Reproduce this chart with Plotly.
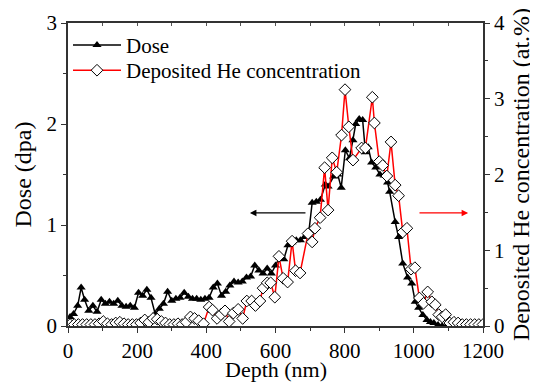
import plotly.graph_objects as go

# ---- data ----
dose_depth = [6, 16, 28, 38, 48, 60, 72, 84, 96, 108, 120, 132, 144, 156, 168, 180, 192,
              204, 216, 228, 240, 252, 264, 276, 288, 300, 312, 324, 336, 348, 360, 372,
              384, 396, 408, 420, 432, 444, 456, 468, 480, 492, 504, 516, 528, 540, 552,
              564, 576, 588, 600, 612, 624, 636, 648, 660, 672, 684, 696, 706, 718, 730,
              744, 752, 768, 780, 790, 802, 814, 824, 832, 842, 852, 860, 868, 878, 890,
              902, 914, 924, 930, 946, 956, 968, 982, 994, 1004, 1014, 1026, 1038, 1048,
              1058, 1070, 1082, 1094]
dose_val = [0.09, 0.12, 0.2, 0.38, 0.26, 0.15, 0.2, 0.14, 0.26, 0.22, 0.24, 0.22, 0.25,
            0.2, 0.19, 0.2, 0.18, 0.33, 0.3, 0.36, 0.28, 0.12, 0.17, 0.22, 0.34, 0.25,
            0.27, 0.28, 0.33, 0.29, 0.27, 0.27, 0.26, 0.27, 0.28, 0.38, 0.42, 0.3, 0.34,
            0.4, 0.44, 0.43, 0.44, 0.48, 0.49, 0.6, 0.55, 0.52, 0.57, 0.52, 0.6, 0.68,
            0.66, 0.8, 0.83, 0.85, 0.85, 0.88, 0.92, 1.22, 1.23, 1.25, 1.4, 1.38, 1.48,
            1.5, 1.37, 1.74, 1.66, 1.84, 2.0, 2.05, 2.04, 1.72, 1.77, 1.62, 1.57, 1.5,
            1.49, 1.42, 1.33, 1.03, 0.88, 0.62, 0.48, 0.42, 0.24, 0.18, 0.11, 0.06, 0.04,
            0.03, 0.01, 0.0, 0.0]

he_depth = [6, 18, 30, 42, 54, 66, 78, 90, 102, 114, 126, 138, 150, 162, 174, 186, 198,
            210, 222, 234, 246, 258, 270, 282, 294, 306, 318, 330, 342, 354, 366, 378,
            392, 408, 418, 431, 442, 454, 466, 478, 492, 505, 517, 531, 542, 555, 564,
            576, 586, 598, 610, 622, 635, 648, 658, 671, 694, 706, 714, 729, 742, 752,
            764, 777, 791, 801, 812, 824, 849, 860, 880, 886, 900, 910, 922, 934, 946,
            956, 968, 980, 992, 1003, 1016, 1028, 1040, 1052, 1062, 1072, 1082, 1092,
            1104, 1116, 1128, 1140, 1152, 1164, 1176, 1188, 1200]
he_val = [0.02, 0.02, 0.02, 0.02, 0.02, 0.02, 0.02, 0.03, 0.06, 0.03, 0.02, 0.04, 0.05,
          0.03, 0.02, 0.02, 0.02, 0.04, 0.08, 0.05, 0.1, 0.09, 0.06, 0.04, 0.02, 0.02,
          0.03, 0.02, 0.05, 0.12, 0.1, 0.07, 0.03, 0.25, 0.21, 0.1, 0.15, 0.2, 0.06,
          0.17, 0.22, 0.1, 0.33, 0.33, 0.27, 0.33, 0.5, 0.57, 0.57, 0.38, 0.92, 0.63,
          0.58, 1.12, 0.73, 0.7, 1.22, 1.11, 1.29, 1.43, 2.09, 1.53, 2.22, 2.03, 2.52,
          3.12, 2.63, 2.19, 2.35, 2.35, 3.02, 2.68, 2.17, 2.12, 1.98, 2.43, 1.86, 1.72,
          1.24, 1.29, 0.75, 0.77, 0.37, 0.3, 0.45, 0.32, 0.28, 0.15, 0.12, 0.15, 0.04,
          0.05, 0.04, 0.02, 0.02, 0.02, 0.02, 0.02, 0.02]

x_ticks = [0, 200, 400, 600, 800, 1000, 1200]
y_left_ticks = [0, 1, 2, 3]
y_right_ticks = [0, 1, 2, 3, 4]

FONT = "Liberation Serif"

fig = go.Figure()
fig.add_trace(go.Scatter(
    x=dose_depth, y=dose_val, name="Dose", mode="lines+markers",
    line=dict(color="black", width=1.5),
    marker=dict(symbol="triangle-up", size=8, color="black"),
    yaxis="y", legend="legend"))
fig.add_trace(go.Scatter(
    x=he_depth, y=he_val, name="Deposited He concentration", mode="lines+markers",
    line=dict(color="#ff0000", width=1.5),
    marker=dict(symbol="diamond", size=9, color="white",
                line=dict(color="black", width=1)),
    yaxis="y2", legend="legend2"))
# invisible trace for the top axis
fig.add_trace(go.Scatter(x=[0, 1200], y=[0, 0], xaxis="x2", yaxis="y",
                         mode="markers", marker=dict(opacity=0),
                         showlegend=False, hoverinfo="skip"))

axis_common = dict(showgrid=False, zeroline=False, showline=True, automargin=False,
                   linecolor="#333333", linewidth=1.5, ticks="outside",
                   ticklen=5, tickwidth=1.2, tickcolor="#333333",
                   tickfont=dict(family=FONT, size=21, color="black"))

leg_common = dict(xanchor="left", yanchor="middle", bgcolor="rgba(0,0,0,0)",
                  borderwidth=0, itemwidth=48,
                  font=dict(family=FONT, size=21, color="black"))

# page body has an 8px margin, so the figure is shifted by 8px
fig.update_layout(
    width=530, height=377,
    margin=dict(l=60, r=55, t=15, b=59),
    paper_bgcolor="white", plot_bgcolor="white",
    font=dict(family=FONT, color="black"),
    xaxis=dict(range=[0, 1200], tickvals=x_ticks,
               minor=dict(dtick=100, ticks="outside", ticklen=3, tickcolor="#333333"),
               **axis_common),
    xaxis2=dict(range=[0, 1200], overlaying="x", side="top", showgrid=False,
                zeroline=False, showline=True, linecolor="#333333", linewidth=1.5,
                ticks="inside", dtick=100, ticklen=3, tickcolor="#555555",
                showticklabels=False, anchor="y"),
    yaxis=dict(range=[0, 3], tickvals=y_left_ticks,
               minor=dict(dtick=0.5, ticks="outside", ticklen=3, tickcolor="#333333"),
               title=dict(text="Dose (dpa)", font=dict(family=FONT, size=24), standoff=8),
               **axis_common),
    yaxis2=dict(range=[0, 4], tickvals=y_right_ticks, overlaying="y", side="right",
                minor=dict(dtick=0.5, ticks="outside", ticklen=3, tickcolor="#333333"),
                title=dict(text="Deposited He concentration (at.%)",
                           font=dict(family=FONT, size=24), standoff=8),
                **axis_common),
    legend=dict(x=0.0, y=0.926, **leg_common),
    legend2=dict(x=0.0, y=0.843, **leg_common),
    showlegend=True,
)

# x-axis title as a text placed just below the tick labels
fig.add_annotation(x=0.5, y=-0.143, xref="paper", yref="paper", text="Depth (nm)",
                   showarrow=False, xanchor="center", yanchor="middle",
                   font=dict(family=FONT, size=22, color="black"))

fig.add_annotation(x=526, y=1.12, ax=691, ay=1.12, xref="x", yref="y",
                   axref="x", ayref="y", showarrow=True, arrowhead=2,
                   arrowsize=1, arrowwidth=1.3, arrowcolor="black", text="")
fig.add_annotation(x=1157, y=1.12, ax=1012, ay=1.12, xref="x", yref="y",
                   axref="x", ayref="y", showarrow=True, arrowhead=2,
                   arrowsize=1, arrowwidth=1.3, arrowcolor="#ff0000", text="")

fig.write_html("out.html")
